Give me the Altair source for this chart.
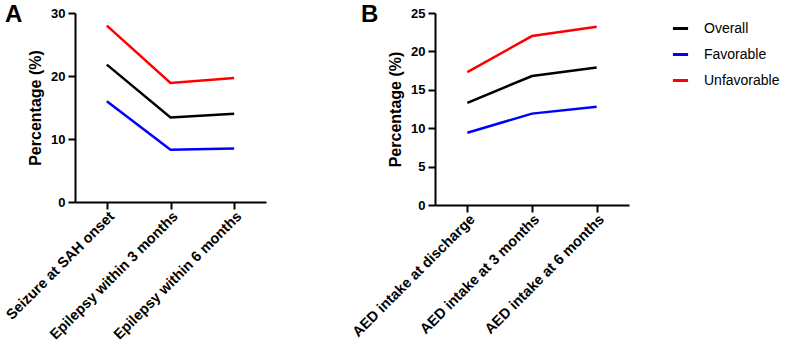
import altair as alt
import pandas as pd

groups = ["Overall", "Favorable", "Unfavorable"]
colors = ["#000000", "#0000ff", "#ff0000"]

cats_a = ["Seizure at SAH onset", "Epilepsy within 3 months", "Epilepsy within 6 months"]
overall_a = [21.8, 13.4, 14.0]
favorable_a = [16.0, 8.3, 8.5]
unfavorable_a = [28.0, 18.9, 19.7]

cats_b = ["AED intake at discharge", "AED intake at 3 months", "AED intake at 6 months"]
overall_b = [13.3, 16.8, 17.9]
favorable_b = [9.4, 11.9, 12.8]
unfavorable_b = [17.3, 22.0, 23.2]

FONT = "Liberation Sans"


def long_table(cats, series):
    rows = []
    for g, vals in zip(groups, series):
        for c, v in zip(cats, vals):
            rows.append({"cat": c, "group": g, "value": v})
    return pd.DataFrame(rows)


df_a = long_table(cats_a, [overall_a, favorable_a, unfavorable_a])
df_b = long_table(cats_b, [overall_b, favorable_b, unfavorable_b])

key = alt.Legend(
    title=None,
    orient="none",
    legendX=236,
    legendY=6,
    symbolType="stroke",
    symbolSize=230,
    symbolStrokeWidth=3,
    labelFont=FONT,
    labelFontSize=14,
    labelFontWeight="normal",
    labelColor="#000000",
    labelOffset=14,
    rowPadding=9,
)


def panel(df, cats, ymax, ystep, w, h, letter, letter_dx, legend):
    x = alt.X(
        "cat:N",
        sort=cats,
        title=None,
        scale=alt.Scale(type="point", padding=0.5),
        axis=alt.Axis(
            labelAngle=315,
            labelAlign="right",
            labelBaseline="top",
            labelFont=FONT,
            labelFontSize=14.5,
            labelFontWeight="bold",
            labelColor="#000000",
            labelPadding=0,
            domainColor="#000000",
            domainWidth=2,
            tickColor="#000000",
            tickWidth=2,
            tickSize=7,
        ),
    )
    y = alt.Y(
        "value:Q",
        title="Percentage (%)",
        scale=alt.Scale(domain=[0, ymax], nice=False),
        axis=alt.Axis(
            values=list(range(0, ymax + 1, ystep)),
            grid=False,
            labelFont=FONT,
            labelFontSize=13,
            labelFontWeight="bold",
            labelColor="#000000",
            labelPadding=3,
            titleFont=FONT,
            titleFontSize=16,
            titleFontWeight="bold",
            titleColor="#000000",
            titlePadding=7,
            domainColor="#000000",
            domainWidth=2,
            tickColor="#000000",
            tickWidth=2,
            tickSize=7,
        ),
    )
    color = alt.Color(
        "group:N",
        scale=alt.Scale(domain=groups, range=colors),
        sort=groups,
        legend=legend,
    )
    lines = alt.Chart(df).mark_line(strokeWidth=2.5).encode(x=x, y=y, color=color, detail="group:N")
    tag = alt.Chart(pd.DataFrame({"t": [letter]})).mark_text(
        font=FONT, fontSize=24, fontWeight="bold", align="left", baseline="top", color="#000000"
    ).encode(text="t:N", x=alt.value(letter_dx), y=alt.value(-10))
    return alt.layer(lines, tag).properties(width=w, height=h)


chart_a = panel(df_a, cats_a, 30, 10, 191, 189, "A", -70, None)
chart_b = panel(df_b, cats_b, 25, 5, 194, 192, "B", -74, key)

chart = (
    alt.hconcat(chart_a, chart_b, spacing=83)
    .resolve_scale(color="independent")
    .resolve_legend(color="independent")
    .properties(padding={"left": 2, "top": 3, "right": 0, "bottom": 0})
    .configure_view(stroke=None)
)

chart.save("out.html", embed_options={"renderer": "svg", "actions": False})
